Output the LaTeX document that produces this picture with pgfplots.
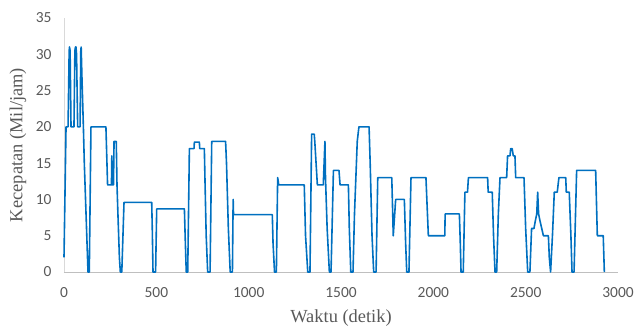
\documentclass[border=0pt]{standalone}
\usepackage{pgfplots}
\pgfplotsset{compat=1.18}
\usepackage{fontspec}
\setmainfont{Liberation Serif}
\newfontfamily\tickfont{Carlito}
\definecolor{lineblue}{HTML}{0070C0}
\definecolor{txtgray}{HTML}{595959}
\definecolor{xaxgray}{HTML}{BFBFBF}
\definecolor{yaxgray}{HTML}{D9D9D9}
\begin{document}
\begin{tikzpicture}[x=1bp,y=1bp]
\useasboundingbox (-64bp,-59bp) rectangle (571bp,272bp);
\begin{axis}[
  at={(0,0)}, anchor=south west,
  scale only axis, width=554bp, height=254bp,
  xmin=0, xmax=3000, ymin=0, ymax=35,
  xtick={0,500,...,3000}, ytick={0,5,...,35},
  axis x line=bottom, axis y line=left,
  axis line style={-},
  x axis line style={draw=xaxgray, line width=0.9bp},
  y axis line style={draw=yaxgray, line width=0.9bp},
  major tick length=0pt,
  /pgf/number format/assume math mode=true,
  /pgf/number format/1000 sep={},
  ticklabel style={font=\tickfont\fontsize{15.5}{15.5}\selectfont, text=txtgray},
  xticklabel style={yshift=-12bp},
  yticklabel style={xshift=-9bp},
  xlabel={Waktu (detik)}, ylabel={Kecepatan (Mil/jam)},
  label style={font=\fontsize{18.5}{18.5}\selectfont, text=txtgray},
  xlabel style={at={(axis description cs:0.5,-0.181)}, anchor=center},
  ylabel style={at={(axis description cs:-0.083,0.5)}, anchor=center},
  clip=false,
]
\addplot[lineblue, line width=1.6bp, line join=round] coordinates {
(0,2) (11,20) (22,20) (28,30.5) (30,31) (33,30.5) (38,20) (54,20) (59,30.5) (62,31) (65,31) (68,30) (74,20)
(87,20) (91,30.5) (93,31) (97,27) (105,20) (110,15) (122,6) (130,0) (137,0) (146,20)
(227,20) (236,12) (257,12) (259,16) (261,12) (268,12) (271,18) (283,18)
(287,12) (292,8) (300,2) (305,0) (313,0) (325,9.6) (475,9.6) (478,6) (482,0)
(496,0) (502,8.7) (652,8.7) (656,5) (662,0) (670,0) (679,17) (704,17)
(706,17.9) (733,17.9) (735,17) (760,17) (764,12) (770,5) (778,0) (791,0)
(800,18) (875,18) (880,15) (890,6) (900,0) (912,0) (916,10) (918,7.9)
(1128,7.9) (1132,4) (1140,0) (1150,0) (1157,13) (1163,12) (1301,12) (1308,5)
(1320,0) (1332,0) (1341,19) (1355,19) (1358,18) (1365,15) (1372,12) (1404,12)
(1413,18) (1416,13) (1425,6) (1437,0) (1446,0) (1459,14) (1489,14) (1495,12)
(1540,12) (1545,6) (1553,0) (1565,0) (1573,8) (1588,18) (1597,20) (1652,20)
(1658,15) (1668,5) (1677,0) (1690,0) (1699,13) (1775,13) (1783,5) (1796,10)
(1843,10) (1850,4) (1856,0) (1868,0) (1879,13) (1960,13) (1973,5) (2062,5)
(2064,8) (2141,8) (2146,4) (2150,0) (2162,0) (2171,11) (2185,11) (2190,13)
(2294,13) (2297,11) (2319,11) (2326,5) (2334,0) (2343,0) (2352,8) (2361,13)
(2397,13) (2402,16) (2415,16) (2419,17) (2427,17) (2433,16) (2442,16)
(2446,13) (2491,13) (2500,6) (2511,0) (2523,0) (2532,6) (2545,6) (2552,7)
(2560,8) (2565,11) (2570,8) (2578,7) (2587,6) (2596,5) (2623,5) (2628,2)
(2635,0) (2645,5) (2655,11) (2671,11) (2680,13) (2717,13) (2720,11)
(2736,11) (2745,5) (2751,0) (2762,0) (2770,8) (2776,14) (2879,14) (2888,5)
(2920,5) (2926,0)
};
\end{axis}
\end{tikzpicture}
\end{document}
